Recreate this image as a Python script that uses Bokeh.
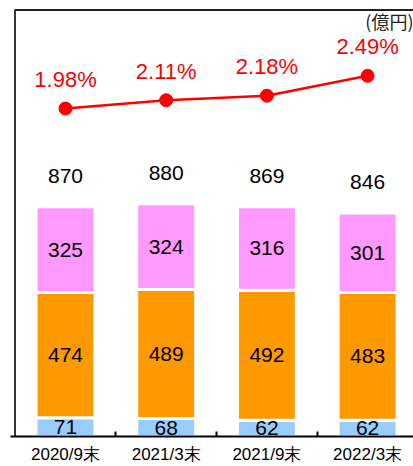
from bokeh.plotting import figure
from bokeh.models import ColumnDataSource, Range1d, FixedTicker, Label
from bokeh.embed import file_html
from bokeh.resources import INLINE
from bokeh.core.properties import value

# ---- data ----
periods = ["2020/9末", "2021/3末", "2021/9末", "2022/3末"]
seg_blue = [71, 68, 62, 62]
seg_orange = [474, 489, 492, 483]
seg_pink = [325, 324, 316, 301]
totals = [870, 880, 869, 846]
ratio = [1.98, 2.11, 2.18, 2.49]
ratio_labels = ["1.98%", "2.11%", "2.18%", "2.49%"]
unit_label = "(億円)"

xs = list(range(1, len(periods) + 1))
bot_orange = [b for b in seg_blue]
bot_pink = [b + o for b, o in zip(seg_blue, seg_orange)]
stack_top = [b + o + p for b, o, p in zip(seg_blue, seg_orange, seg_pink)]

src = ColumnDataSource(dict(
    x=xs, blue=seg_blue, orange=seg_orange, pink=seg_pink,
    mid_blue=[b / 2 for b in seg_blue],
    mid_orange=[bo + o / 2 for bo, o in zip(bot_orange, seg_orange)],
    mid_pink=[bp + p / 2 for bp, p in zip(bot_pink, seg_pink)],
    top=stack_top,
    t_blue=[str(v) for v in seg_blue],
    t_orange=[str(v) for v in seg_orange],
    t_pink=[str(v) for v in seg_pink],
    t_total=[str(v) for v in totals],
    ratio=ratio, t_ratio=ratio_labels,
))

FONT = value("Liberation Sans")
# frame: left edge at 10px, top edge at 5px; box lines drawn a few px inside
X0, X1 = 0.4538, 4.4558
Y1 = 1632
X_BOX = 0.4985      # left box line
Y_BOX = 1615        # top box line

p = figure(width=413, height=466,
           x_range=Range1d(X0, X1), y_range=Range1d(0, Y1),
           output_backend="svg", toolbar_location=None,
           min_border_left=10, min_border_right=0, min_border_top=5, min_border_bottom=0)
p.outline_line_color = None
p.xgrid.visible = False
p.ygrid.visible = False
p.yaxis.visible = False

# box lines (left and top)
p.line(x=[X_BOX, X_BOX, X1], y=[0, Y_BOX, Y_BOX], line_color="#222222", line_width=1.8)

# stacked bars
p.vbar_stack(["blue", "orange", "pink"], x="x", width=0.585, source=src,
             color=["#99CCFF", "#FF9900", "#FF99FF"],
             line_color="white", line_width=3)

for col, tcol in [("mid_blue", "t_blue"), ("mid_orange", "t_orange"), ("mid_pink", "t_pink")]:
    p.text(x="x", y=col, text=tcol, source=src, text_align="center",
           text_baseline="middle", text_font=FONT, text_font_size="21px",
           text_color="black")

p.text(x="x", y="top", text="t_total", source=src, text_align="center",
       text_baseline="middle", y_offset=-31, text_font=FONT,
       text_font_size="21px", text_color="black")

# ratio line
p.extra_y_ranges = {"pct": Range1d(-3.136, 3.587)}
p.line(x="x", y="ratio", source=src, y_range_name="pct", line_color="#FF0000", line_width=2.5)
p.scatter(x="x", y="ratio", source=src, y_range_name="pct", size=13,
          fill_color="#FF0000", line_color="#FF0000")
p.text(x="x", y="ratio", text="t_ratio", source=src, y_range_name="pct",
       text_align="center", text_baseline="middle", y_offset=-29,
       text_font=FONT, text_font_size="22px", text_color="#FF0000")

# unit label
p.add_layout(Label(x=X1, y=Y_BOX, y_offset=-11, text=unit_label, text_align="right",
                   text_baseline="middle", text_font="Noto Sans CJK JP",
                   text_font_size="18px", text_color="#222222"))

# x axis
xa = p.xaxis[0]
xa.ticker = FixedTicker(ticks=xs, minor_ticks=[1.5, 2.5, 3.5])
xa.major_label_overrides = {i: lab for i, lab in zip(xs, periods)}
xa.major_tick_in = 0
xa.major_tick_out = 0
xa.minor_tick_in = 5
xa.minor_tick_out = 0
xa.minor_tick_line_width = 2
xa.minor_tick_line_color = "black"
xa.axis_line_width = 2
xa.axis_line_color = "black"
xa.major_label_standoff = 8
xa.major_label_text_font = "Liberation Sans"
xa.major_label_text_font_size = "17px"
xa.major_label_text_color = "black"

open("out.html", "w").write(file_html(p, INLINE))
